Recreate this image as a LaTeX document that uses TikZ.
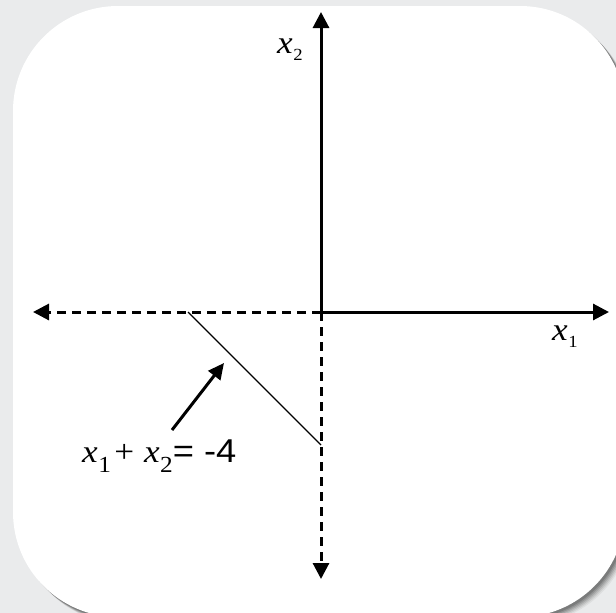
\documentclass[tikz,border=0pt]{standalone}
\usepackage{fontspec}
\setmainfont{Liberation Serif}
\newfontfamily\sansf{Liberation Sans}
\usetikzlibrary{arrows.meta}
\definecolor{bggray}{RGB}{234,235,236}
\newcommand{\wide}[1]{\scalebox{1.1}[1]{#1}}
\newcommand{\vsub}[3]{\textit{x}\kern0.5pt\lower#3pt\hbox{\fontsize{#2}{#2}\selectfont #1}}
\tikzset{
  axis/.style={line width=3pt, -{Triangle[length=16pt,width=16pt]}},
  dashaxis/.style={axis, dash pattern=on 9pt off 6pt},
  lbl/.style={font=\fontsize{32}{34}\selectfont, inner sep=0pt},
}
\begin{document}
\begin{tikzpicture}[x=1pt,y=-1pt]
\useasboundingbox (0,0) rectangle (616,613);
\clip (0,0) rectangle (616,613);
\fill[bggray] (0,0) rectangle (616,613);
% shadow
\foreach \s/\o in {7/0.05,6/0.07,5/0.09,4/0.11,3/0.13,2/0.15}{
  \fill[black, opacity=\o, rounded corners=105pt] (13+\s,6+\s) rectangle (625+\s,617+\s);
}
\fill[white, rounded corners=105pt] (13,6) rectangle (625,617);
% coordinates
\coordinate (O) at (321,312);
\coordinate (L) at (33,312);
\coordinate (R) at (609,312);
\coordinate (T) at (321,12);
\coordinate (B) at (321,579);
\coordinate (P) at (188,312);
\coordinate (Q) at (321,445);
\coordinate (A0) at (172,430);
\coordinate (A1) at (224,363);
% axes
\draw[axis] (O) -- (R);
\draw[axis] (O) -- (T);
\draw[dashaxis] (O) -- (L);
\draw[dashaxis] (O) -- (B);
% line x1+x2=-4
\draw[line width=1.1pt] (P) -- (Q);
\draw[line width=3pt, -{Triangle[length=16pt,width=15pt]}] (A0) -- (A1);
% labels
\node[lbl, anchor=base west] (lx2) at (277,53) {\wide{\vsub{2}{17}{7}}};
\node[lbl, anchor=base west] (lx1) at (552,340) {\wide{\vsub{1}{17}{7}}};
\node[lbl, anchor=base west] (eq) at (82,462)
  {\wide{\vsub{1}{23}{10}\kern3pt+\kern1pt\ \vsub{2}{23}{10}{\sansf\fontsize{33}{35}\selectfont= -4}}};
\end{tikzpicture}
\end{document}
